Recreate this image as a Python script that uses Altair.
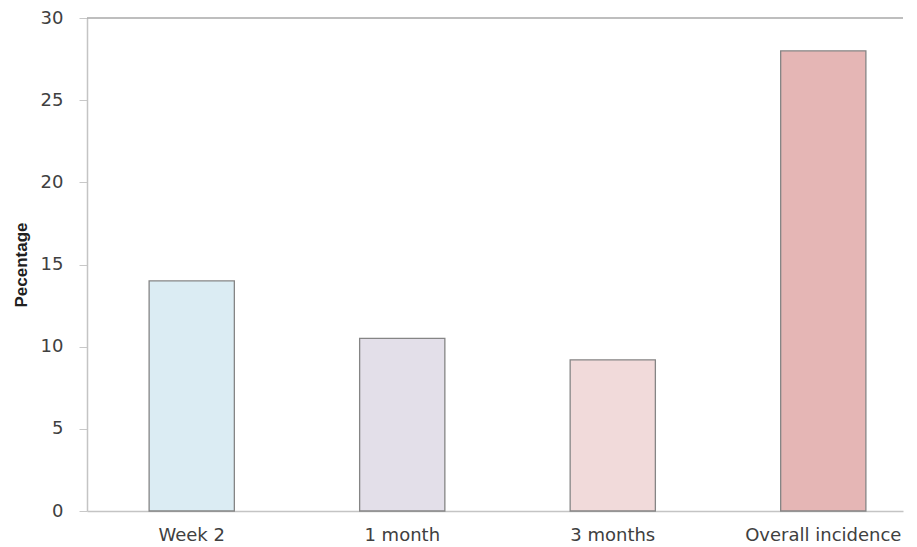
import altair as alt
import pandas as pd

categories = ["Week 2", "1 month", "3 months", "Overall incidence"]
values = [14.0, 10.5, 9.2, 28.0]
colors = ["#dbecf3", "#e3dfe9", "#f1dada", "#e5b6b5"]
y_ticks = [0, 5, 10, 15, 20, 25, 30]

df = pd.DataFrame({"category": categories, "value": values})
top_df = pd.DataFrame({"top": [y_ticks[-1]]})

bars = alt.Chart(df).mark_bar(stroke="#858585", strokeWidth=1.3).encode(
    x=alt.X(
        "category:N",
        sort=categories,
        title=None,
        scale=alt.Scale(paddingInner=0.5952, paddingOuter=0.2357, align=0.626),
        axis=alt.Axis(
            labelAngle=0,
            labelFont="DejaVu Sans",
            labelFontSize=18,
            labelColor="#404040",
            ticks=False,
            domainColor="#c4c4c4",
            domainWidth=1.5,
            labelPadding=15,
        ),
    ),
    y=alt.Y(
        "value:Q",
        title="Pecentage",
        scale=alt.Scale(domain=[0, 30], nice=False),
        axis=alt.Axis(
            values=y_ticks,
            grid=False,
            labelFont="DejaVu Sans",
            labelFontSize=18,
            labelColor="#404040",
            tickSize=8,
            tickColor="#c8c8c8",
            domainColor="#c4c4c4",
            domainWidth=1.5,
            labelPadding=16,
            titleFont="Liberation Sans",
            titleFontSize=17,
            titleFontWeight="bold",
            titleColor="#202020",
            titlePadding=10,
        ),
    ),
    color=alt.Color(
        "category:N",
        scale=alt.Scale(domain=categories, range=colors),
        legend=None,
    ),
)

top_line = alt.Chart(top_df).mark_rule(color="#a8a8a8", strokeWidth=1.5).encode(
    y=alt.Y("top:Q")
)

chart = (
    alt.layer(bars, top_line)
    .properties(
        width=816,
        height=493,
        padding={"left": 4, "top": 1, "right": 0, "bottom": 0},
    )
    .configure_view(stroke=None)
)

chart.save("out.html", embed_options={"renderer": "svg", "actions": False})
